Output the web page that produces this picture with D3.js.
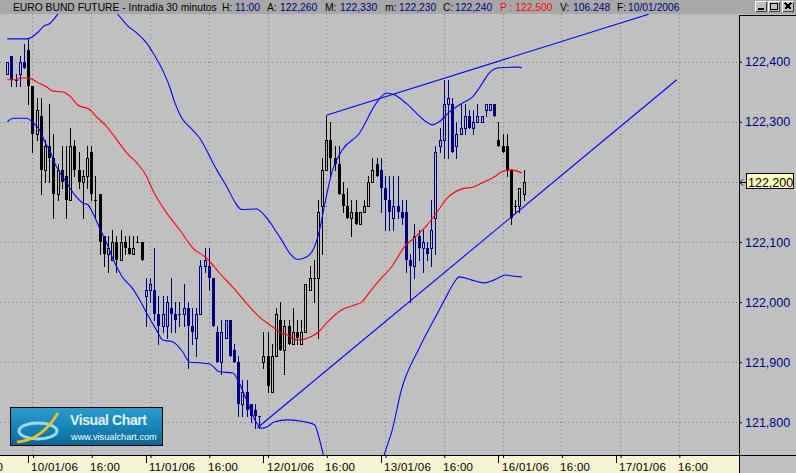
<!DOCTYPE html>
<html><head><meta charset="utf-8">
<script src="https://cdn.jsdelivr.net/npm/d3@7"></script>
<style>
body{margin:0;background:#c0c0c0;overflow:hidden}
svg{display:block;font-family:"Liberation Sans",Arial,sans-serif}
</style>
</head><body>
<svg id="chart" width="796" height="473"></svg>
<script>
// ---------- DATA ----------
const barOpen  = [122.38,122.41,122.37,122.38,122.40,
  122.42,122.36,122.28,122.31,122.22,122.26,122.24,122.18,122.22,122.21,122.17,122.26,122.22,122.20,122.21,122.25,122.17,122.18,122.11,122.08,122.07,122.10,122.07,122.10,122.09,122.08,122.10,122.10,
  122.01,122.02,122.02,121.98,121.96,121.96,121.99,121.98,121.98,121.98,121.99,121.96,121.94,121.98,122.06,122.06,122.04,121.95,121.90,121.94,121.97,121.92,121.90,121.83,121.85,121.83,121.82,121.81,
  121.90,121.91,121.85,121.91,121.97,121.92,121.96,121.93,121.95,121.93,121.95,122.02,122.04,122.04,122.16,122.22,122.27,122.24,122.23,122.18,122.16,122.14,122.15,122.13,122.15,122.16,122.20,122.23,
  122.22,122.19,122.17,122.14,122.16,122.15,122.15,122.07,122.06,122.11,122.09,122.09,122.09,122.14,122.26,122.27,122.33,122.33,122.26,122.28,122.29,122.31,122.29,122.30,122.30,122.32,122.32,122.33,
  122.27,122.26,122.26,122.22,122.16,122.16,122.18];
const barHigh  = [122.40,122.41,122.38,122.41,122.43,
  122.44,122.36,122.34,122.34,122.27,122.33,122.28,122.23,122.26,122.26,122.29,122.27,122.25,122.22,122.26,122.26,122.21,122.18,122.11,122.11,122.12,122.11,122.12,122.11,122.11,122.11,122.11,122.10,
  122.04,122.04,122.09,122.01,122.01,122.01,122.04,122.00,122.00,122.03,122.00,121.99,121.99,122.07,122.09,122.09,122.04,121.96,121.97,121.97,121.97,121.93,121.91,121.87,121.87,121.83,121.83,121.81,
  121.95,121.95,121.93,121.99,122.00,121.97,121.97,121.99,121.97,121.97,122.03,122.06,122.07,122.17,122.24,122.31,122.30,122.26,122.26,122.20,122.19,122.17,122.17,122.15,122.17,122.21,122.24,122.24,
  122.24,122.21,122.21,122.21,122.21,122.17,122.17,122.08,122.13,122.12,122.12,122.10,122.17,122.26,122.29,122.37,122.37,122.34,122.30,122.33,122.33,122.32,122.32,122.33,122.31,122.33,122.33,122.33,
  122.30,122.28,122.28,122.22,122.17,122.19,122.22];
const barLow   = [122.38,122.36,122.36,122.36,122.39,
  122.33,122.25,122.27,122.18,122.20,122.20,122.14,122.17,122.19,122.14,122.17,122.21,122.19,122.14,122.19,122.17,122.14,122.08,122.06,122.05,122.07,122.05,122.07,122.08,122.08,122.08,122.10,122.07,
  121.96,122.00,121.97,121.93,121.95,121.94,121.95,121.95,121.96,121.96,121.89,121.93,121.91,121.98,122.05,122.02,121.96,121.90,121.88,121.94,121.91,121.90,121.81,121.81,121.81,121.80,121.79,121.79,
  121.89,121.85,121.85,121.91,121.92,121.88,121.93,121.93,121.93,121.93,121.95,122.02,122.00,121.94,122.08,122.22,122.21,122.22,122.18,122.15,122.14,122.11,122.13,122.13,122.15,122.16,122.20,122.21,
  122.15,122.12,122.12,122.12,122.14,122.13,122.05,122.00,122.04,122.07,122.05,122.07,122.06,122.08,122.25,122.24,122.24,122.25,122.24,122.28,122.28,122.29,122.28,122.30,122.30,122.31,122.32,122.31,
  122.26,122.25,122.21,122.13,122.15,122.15,122.17];
const barClose = [122.40,122.37,122.37,122.40,122.39,
  122.36,122.28,122.32,122.22,122.26,122.24,122.18,122.22,122.20,122.17,122.26,122.22,122.20,122.21,122.24,122.18,122.17,122.10,122.08,122.09,122.10,122.07,122.10,122.09,122.08,122.09,122.10,122.07,
  122.02,122.03,121.98,121.96,121.98,122.00,121.98,121.97,121.98,121.99,121.96,121.95,121.98,122.06,122.07,122.04,121.96,121.90,121.95,121.97,121.91,121.90,121.83,121.85,121.82,121.81,121.81,121.81,
  121.91,121.86,121.91,121.98,121.92,121.96,121.93,121.95,121.94,121.95,122.03,122.04,122.04,122.15,122.22,122.27,122.24,122.23,122.18,122.16,122.14,122.15,122.13,122.15,122.16,122.20,122.22,122.21,
  122.19,122.17,122.15,122.16,122.15,122.14,122.07,122.06,122.11,122.09,122.10,122.08,122.12,122.25,122.27,122.33,122.34,122.25,122.28,122.29,122.31,122.29,122.30,122.31,122.31,122.33,122.33,122.31,
  122.26,122.25,122.22,122.14,122.16,122.19,122.20];

// first bar index of each session and its candle colour
const sessionStart = [0, 5, 33, 61, 89, 117];
const sessionColor = ["#000080","#000000","#000080","#000000","#000080","#000000"];

// moving average (red): bar position / value
const maIdx = [0,2.3,3,4.7,5.9,7.1,9.4,10.9,13,14.9,16.8,19.7,21.3,23.7,26.1,28.5,30.8,33.2,34.6,38,41.1,44.2,47.5,50.6,53.7,57,60.1,63.2,64.9,66.8,69.1,71.5,73.9,76.3,79.6,82.7,84.4,86.7,89.1,91.5,94.6,97,100,102.4,104.8,108.1,111.2,113.6,116,117.6,120,122.6];
const maVal = [122.370,122.370,122.373,122.373,122.371,122.366,122.358,122.351,122.350,122.343,122.328,122.320,122.308,122.292,122.270,122.248,122.232,122.209,122.187,122.148,122.120,122.090,122.073,122.048,122.025,121.998,121.975,121.959,121.950,121.945,121.937,121.940,121.949,121.967,121.987,121.995,122.000,122.020,122.040,122.058,122.092,122.107,122.128,122.150,122.173,122.188,122.192,122.200,122.208,122.216,122.220,122.215];

// upper Bollinger band (blue)
const upIdx = [0,4.7,5.9,7.3,8.5,10.2,10.9,12.5,16.1,20.9,24.4,26.3,27.5,28.5,30.8,33.2,34.7,37,38.7,39.9,41.6,43.5,45.8,49.9,52.3,54.2,55.8,59.4,61.8,64.1,65.3,67.2,69.1,71.3,73.2,74.4,75.6,77.5,79.8,83.9,87.9,90.3,92.2,95,97.4,99.8,101.2,102.9,105.3,108.4,110.8,112.9,114.8,117.2,121.9,122.6];
const upVal = [122.438,122.438,122.441,122.449,122.458,122.464,122.469,122.483,122.499,122.508,122.496,122.479,122.469,122.461,122.448,122.431,122.415,122.386,122.358,122.332,122.306,122.291,122.273,122.220,122.192,122.167,122.154,122.155,122.140,122.117,122.104,122.082,122.071,122.075,122.092,122.120,122.162,122.220,122.253,122.281,122.331,122.348,122.345,122.331,122.315,122.300,122.295,122.300,122.316,122.331,122.341,122.361,122.381,122.390,122.391,122.390];

// lower Bollinger band (blue)
const loIdx = [0,1.4,4.7,5.9,7.8,9,10.2,11.3,12.5,14.2,16.1,18,19.2,20.4,22,23.7,25.1,27.3,29.9,31.6,33.2,35.6,37,39.4,41.8,43.5,45.8,48.2,50.6,53.7,55.3,57,59.4,60.6,61.8,63.7,66.8,70.8,73.2,74.4,75.6,77.9,83.9,88.2,89.8,91.7,93.9,98.2,102.9,104.8,106.5,107.7,110.5,113.6,116,118.8,120.7,122.6];
const loVal = [122.300,122.306,122.306,122.300,122.285,122.266,122.251,122.231,122.216,122.198,122.178,122.165,122.162,122.148,122.123,122.098,122.073,122.043,122.022,122.003,121.982,121.953,121.937,121.934,121.917,121.900,121.899,121.897,121.884,121.882,121.865,121.837,121.799,121.790,121.792,121.801,121.804,121.801,121.796,121.771,121.737,121.687,121.662,121.704,121.746,121.787,121.854,121.924,121.987,122.012,122.033,122.042,122.037,122.032,122.037,122.045,122.043,122.042];

// hand-drawn trend lines: [bar, value] pairs
const trendUpper = [[76, 122.311], [152.8, 122.479]];
const trendLower = [[59.6, 121.791], [159.5, 122.370]];

// axes
const yTicks = [121.8, 121.9, 122.0, 122.1, 122.2, 122.3, 122.4];
const gridBars = [-8, 6, 20, 34, 48, 62, 76, 90, 104, 118, 132, 146, 160];
const gridLabels = ["16:00","10/01/06","16:00","11/01/06","16:00","12/01/06","16:00","13/01/06","16:00","16/01/06","16:00","17/01/06","16:00"];
const dayTickBars = [5, 33, 61, 89, 117, 145];
const lastPrice = 122.2;

const header = [
  {x:13, t:"EURO BUND FUTURE - Intradía 30 minutos", c:"#000"},
  {x:222, t:"H:", c:"#000"}, {x:235, t:"11:00", c:"#000080"},
  {x:267, t:"A:", c:"#000"}, {x:280, t:"122,260", c:"#000080"},
  {x:325, t:"M:", c:"#000"}, {x:340, t:"122,330", c:"#000080"},
  {x:385, t:"m:", c:"#000"}, {x:399, t:"122,230", c:"#000080"},
  {x:443, t:"C:", c:"#000"}, {x:455, t:"122,240", c:"#000080"},
  {x:500, t:"P : 122,500", c:"#ff0000"},
  {x:560, t:"V:", c:"#000"}, {x:573, t:"106.248", c:"#000080"},
  {x:617, t:"F:", c:"#000"}, {x:628, t:"10/01/2006", c:"#000080"}
];

// ---------- LAYOUT ----------
const W = 796, H = 473;
const plotL = 0, plotR = 739, plotT = 14, plotB = 455;
const svg = d3.select("#chart");

const x = d3.scaleLinear().domain([0, 145]).range([7.3, 615.9]);
const y = d3.scaleLinear().domain([121.8, 122.4]).range([422.3, 61.7]);
const fmt = v => d3.format(".3f")(v).replace(".", ",");

svg.append("rect").attr("width", W).attr("height", H).attr("fill", "#c0c0c0");

const defs = svg.append("defs");
defs.append("clipPath").attr("id","plotclip").append("rect")
  .attr("x", plotL).attr("y", plotT).attr("width", plotR - plotL).attr("height", plotB - plotT);
const lg = defs.append("linearGradient").attr("id","logoGrad").attr("x1",0).attr("y1",0).attr("x2",0).attr("y2",1);
lg.append("stop").attr("offset","0%").attr("stop-color","#2b9ccd");
lg.append("stop").attr("offset","55%").attr("stop-color","#1683b6");
lg.append("stop").attr("offset","100%").attr("stop-color","#0a6595");

const plot = svg.append("g").attr("clip-path","url(#plotclip)");

// grid
plot.append("g").selectAll("line").data(yTicks).join("line")
  .attr("x1", plotL).attr("x2", plotR - 2)
  .attr("y1", d => Math.round(y(d)) + 0.5).attr("y2", d => Math.round(y(d)) + 0.5)
  .attr("stroke", "#808080").attr("stroke-dasharray", "1,3");
plot.append("g").selectAll("line").data(gridBars).join("line")
  .attr("x1", d => Math.round(x(d)) + 0.5).attr("x2", d => Math.round(x(d)) + 0.5)
  .attr("y1", plotT).attr("y2", plotB)
  .attr("stroke", "#808080").attr("stroke-dasharray", "1,3");

// candles
const colorOf = i => { let k = 0; sessionStart.forEach((s, j) => { if (i >= s) k = j; }); return sessionColor[k]; };
const cg = plot.append("g").attr("shape-rendering", "crispEdges");
barOpen.forEach((o, i) => {
  const c = barClose[i], h = barHigh[i], l = barLow[i];
  const col = colorOf(i);
  const cx = Math.round(x(i));
  const yo = Math.round(y(o)), yc = Math.round(y(c)), yh = Math.round(y(h)), yl = Math.round(y(l));
  const top = Math.min(yo, yc), bot = Math.max(yo, yc);
  if (c > o) {
    if (yh < top) cg.append("line").attr("x1", cx + 0.5).attr("x2", cx + 0.5).attr("y1", yh).attr("y2", top).attr("stroke", col);
    if (yl > bot) cg.append("line").attr("x1", cx + 0.5).attr("x2", cx + 0.5).attr("y1", bot + 1).attr("y2", yl + 1).attr("stroke", col);
    cg.append("rect").attr("x", cx - 0.5).attr("y", top + 0.5).attr("width", 2).attr("height", Math.max(bot - top, 1))
      .attr("fill", "none").attr("stroke", col);
  } else {
    cg.append("line").attr("x1", cx + 0.5).attr("x2", cx + 0.5).attr("y1", yh).attr("y2", yl + 1).attr("stroke", col);
    if (c < o) {
      cg.append("rect").attr("x", cx - 1).attr("y", top).attr("width", 3).attr("height", Math.max(bot - top, 1)).attr("fill", col);
    } else {
      cg.append("line").attr("x1", cx - 1).attr("x2", cx + 2).attr("y1", yc + 0.5).attr("y2", yc + 0.5).attr("stroke", col);
    }
  }
});

// indicator lines
const lineGen = d3.line().x(d => x(d[0])).y(d => y(d[1])).curve(d3.curveMonotoneX);
plot.append("path").datum(maIdx.map((d, i) => [d, maVal[i]])).attr("d", lineGen)
  .attr("fill", "none").attr("stroke", "#ff0000").attr("stroke-width", 1.1);
plot.append("path").datum(upIdx.map((d, i) => [d, upVal[i]])).attr("d", lineGen)
  .attr("fill", "none").attr("stroke", "#0000ff").attr("stroke-width", 1.1);
plot.append("path").datum(loIdx.map((d, i) => [d, loVal[i]])).attr("d", lineGen)
  .attr("fill", "none").attr("stroke", "#0000ff").attr("stroke-width", 1.1);
const straight = d3.line().x(d => x(d[0])).y(d => y(d[1]));
[trendUpper, trendLower].forEach(t => plot.append("path").datum(t).attr("d", straight)
  .attr("fill", "none").attr("stroke", "#0000ff").attr("stroke-width", 1.1));

// logo
const logo = svg.append("g");
logo.append("rect").attr("x", 10.5).attr("y", 407.5).attr("width", 152).attr("height", 38)
  .attr("fill", "url(#logoGrad)").attr("stroke", "#000");
logo.append("ellipse").attr("cx", 38).attr("cy", 431).attr("rx", 19).attr("ry", 8)
  .attr("fill", "none").attr("stroke", "#9fd6f2").attr("stroke-width", 3);
logo.append("path").attr("d", "M17,442 Q42,440 58,413").attr("fill", "none")
  .attr("stroke", "#f2c218").attr("stroke-width", 2.5);
logo.append("text").attr("x", 70).attr("y", 425).text("Visual Chart")
  .attr("font-size", 14).attr("font-weight", "bold").attr("letter-spacing", -0.4).attr("fill", "#e6f2fa");
logo.append("text").attr("x", 71).attr("y", 440).text("www.visualchart.com")
  .attr("font-size", 9.2).attr("fill", "#ffffff");

// header
svg.append("rect").attr("x", 0).attr("y", 0).attr("width", W).attr("height", plotT).attr("fill", "#a8a8a8");
svg.append("g").selectAll("text").data(header).join("text")
  .attr("x", d => d.x).attr("y", 11).attr("font-size", 10.3).attr("fill", d => d.c).text(d => d.t);
// window buttons
const btn = svg.append("g").attr("shape-rendering", "crispEdges");
[755, 768, 782].forEach((bx, k) => {
  btn.append("rect").attr("x", bx).attr("y", 1).attr("width", 12).attr("height", 11).attr("fill", "#c0c0c0");
  btn.append("path").attr("d", `M${bx+0.5},${11.5}V${1.5}H${bx+11.5}`).attr("stroke", "#fff").attr("fill", "none");
  btn.append("path").attr("d", `M${bx+0.5},${11.5}H${bx+11.5}V${1.5}`).attr("stroke", "#404040").attr("fill", "none");
  if (k === 0) btn.append("rect").attr("x", bx + 3).attr("y", 8).attr("width", 6).attr("height", 2).attr("fill", "#000");
  if (k === 1) btn.append("rect").attr("x", bx + 2.5).attr("y", 3.5).attr("width", 7).attr("height", 6).attr("fill", "none").attr("stroke", "#000");
  if (k === 2) btn.append("path").attr("d", `M${bx+3},${3}L${bx+9},${9}M${bx+9},${3}L${bx+3},${9}`).attr("stroke", "#000").attr("stroke-width", 1.5);
});

// right price axis (the last-price box replaces the 122,200 label)
const yAxis = d3.axisRight(y).tickValues(yTicks.filter(v => v !== lastPrice)).tickSize(3).tickPadding(3).tickFormat(fmt);
const ya = svg.append("g").attr("transform", `translate(${plotR},0)`).call(yAxis);
ya.select(".domain").remove();
ya.selectAll("line").attr("stroke", "#000");
ya.selectAll("text").attr("font-size", 12.5).attr("fill", "#000080")
  .attr("font-family", "'Liberation Sans',Arial,sans-serif");
svg.append("line").attr("x1", plotR + 0.5).attr("x2", plotR + 0.5).attr("y1", plotT + 1).attr("y2", H).attr("stroke", "#000");
svg.append("line").attr("x1", plotR).attr("x2", W).attr("y1", plotT + 1.5).attr("y2", plotT + 1.5).attr("stroke", "#000");

// last price marker
const yp = Math.round(y(lastPrice));
svg.append("rect").attr("x", 746.5).attr("y", yp - 8.5).attr("width", 47).attr("height", 15)
  .attr("fill", "#ffffc0").attr("stroke", "#000");
svg.append("text").attr("x", 748).attr("y", yp + 4.5).attr("font-size", 12.5).attr("fill", "#000").text(fmt(lastPrice));
svg.append("path").attr("d", `M${plotR+1},${yp+0.5}H${plotR+7}M${plotR+1},${yp+0.5}L${plotR+4},${yp-2.5}M${plotR+1},${yp+0.5}L${plotR+4},${yp+3.5}`)
  .attr("stroke", "#000").attr("fill", "none");

// time axis
svg.append("rect").attr("x", 0).attr("y", plotB).attr("width", plotR).attr("height", H - plotB).attr("fill", "#f5f5d3");
svg.append("line").attr("x1", 0).attr("x2", W).attr("y1", plotB + 0.5).attr("y2", plotB + 0.5).attr("stroke", "#000");
const xAxis = d3.axisBottom(x).tickValues(gridBars).tickSize(3).tickFormat("");
const xa = svg.append("g").attr("transform", `translate(0.5,${plotB})`).call(xAxis);
xa.select(".domain").remove();
xa.selectAll("line").attr("stroke", "#000");
svg.append("g").selectAll("line").data(dayTickBars).join("line")
  .attr("x1", d => Math.round(x(d)) + 0.5).attr("x2", d => Math.round(x(d)) + 0.5)
  .attr("y1", plotB).attr("y2", plotB + 8).attr("stroke", "#000");
svg.append("g").selectAll("text").data(gridBars).join("text")
  .attr("x", d => Math.round(x(d)) - 1).attr("y", 470.5)
  .attr("font-size", 11.5).attr("letter-spacing", 0.3).attr("fill", "#000")
  .text((d, i) => gridLabels[i]);
</script>
</body></html>
